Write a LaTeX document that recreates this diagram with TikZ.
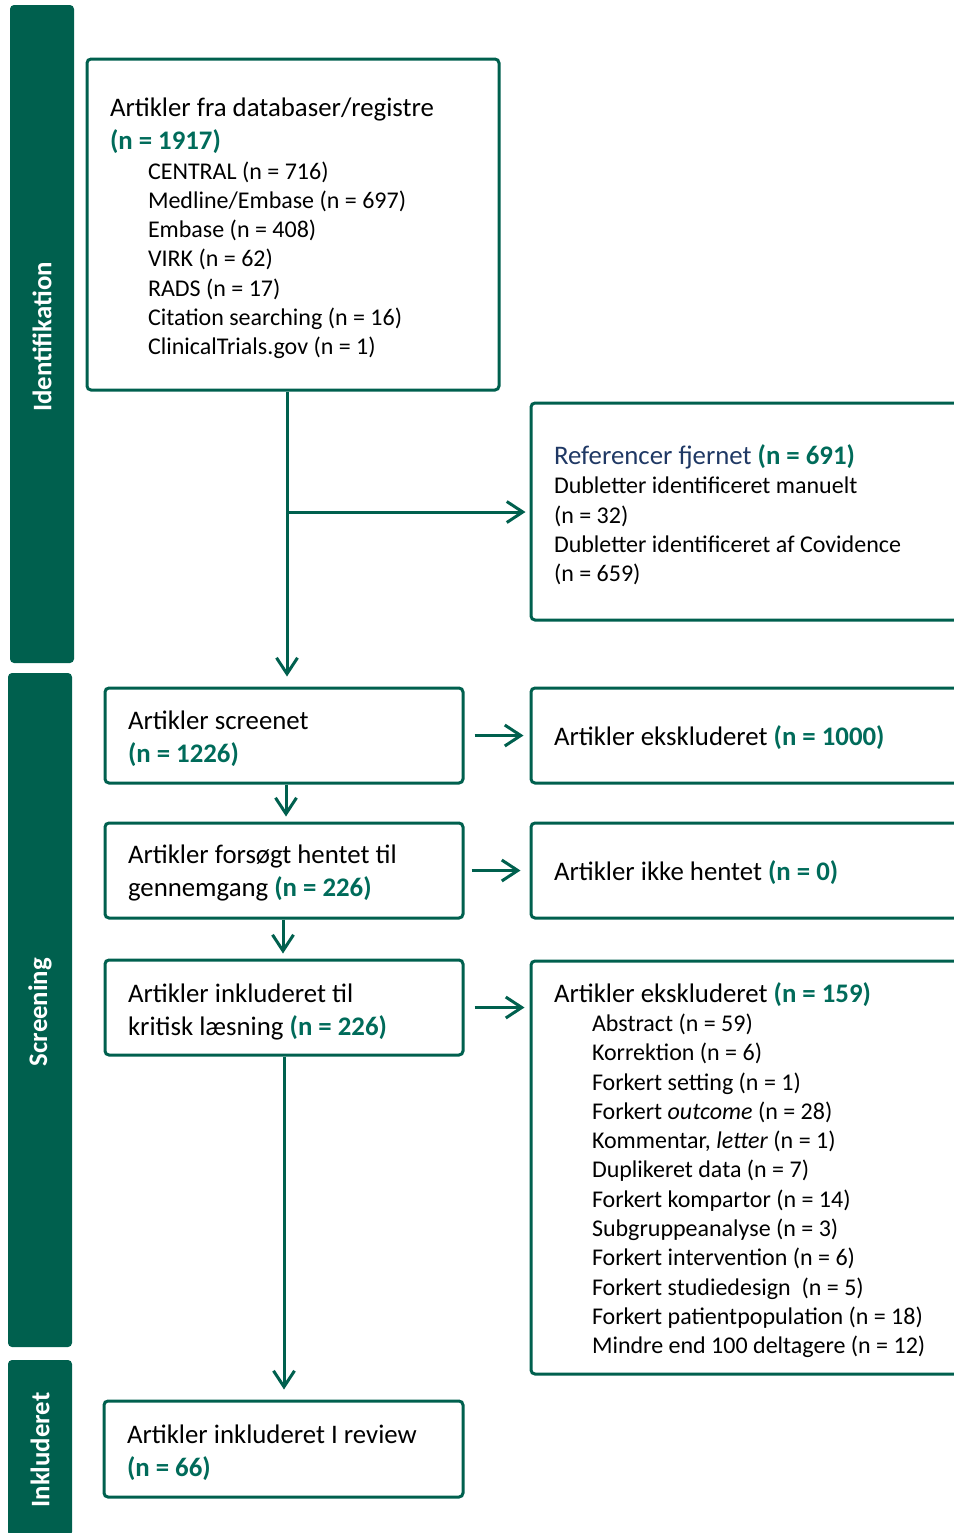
\documentclass[tikz,border=0pt]{standalone}
\usepackage{fontspec}
\setmainfont{Carlito}
\usetikzlibrary{arrows.meta}
\definecolor{dg}{HTML}{00604E}
\definecolor{ng}{HTML}{006B5A}
\definecolor{nv}{HTML}{1F3864}
\newcommand{\nb}[1]{\textbf{\color{ng}#1}}
\newcommand{\ind}{\hspace*{19pt}}
\newcommand{\bigf}{\fontsize{13.4}{16.5}\selectfont}
\newcommand{\smlf}{\fontsize{12}{14.65}\selectfont}
\newcommand{\bx}[3]{\parbox{#1}{\raggedright\bigf\vspace*{#2}#3}}
\tikzset{
 box/.style={draw=dg, line width=1.5pt, rounded corners=2pt, inner xsep=11.5pt, inner ysep=0pt, font=\bigf},
 bar/.style={fill=dg, rounded corners=2pt, text=white, font=\fontsize{13.4}{16}\selectfont\bfseries, rotate=90, minimum height=32pt, inner sep=0pt},
 arr/.style={draw=dg, line width=1.5pt, -{Straight Barb[length=8pt,width=10.5pt]}},
}
\begin{document}
\begin{tikzpicture}[x=0.5pt,y=-0.5pt]
\useasboundingbox (0,0) rectangle (954,1533);
% side bars
\node[bar, minimum width=329pt] (bid) at (42,334) {Identifikation\hspace*{3pt}};
\node[bar, minimum width=337pt] (bsc) at (40,1010) {Screening\hspace*{2pt}};
\node[bar, minimum width=88pt] (bin) at (40,1448) {Inkluderet\hspace*{2pt}};
% boxes
\node[box, minimum height=165.5pt] (db) at (293,224.5) {\bx{183pt}{4pt}{%
{\bigf Artikler fra databaser/registre\\ \nb{(n = 1917)}\par}%
{\smlf\ind CENTRAL (n = 716)\\ \ind Medline/Embase (n = 697)\\ \ind Embase (n = 408)\\ \ind VIRK (n = 62)\\ \ind RADS (n = 17)\\ \ind Citation searching (n = 16)\\ \ind ClinicalTrials.gov (n = 1)\par}}};
\node[box, minimum height=108.5pt] (ref) at (751,511.5) {\bx{197pt}{3.5pt}{%
{\bigf\textcolor{nv}{Referencer fjernet} \nb{(n = 691)}\par}%
{\smlf Dubletter identificeret manuelt\\ (n = 32)\\ Dubletter identificeret af Covidence\\ (n = 659)\par}}};
\node[box, minimum height=47.5pt] (scr) at (284,735.5) {\bx{156pt}{3.5pt}{Artikler screenet\\ \nb{(n = 1226)}}};
\node[box, minimum height=47.5pt] (exa) at (751,735.5) {\bx{197pt}{2pt}{Artikler ekskluderet \nb{(n = 1000)}}};
\node[box, minimum height=47.5pt] (hent) at (284,870.5) {\bx{156pt}{2pt}{Artikler forsøgt hentet til\\ gennemgang \nb{(n = 226)}}};
\node[box, minimum height=47.5pt] (exb) at (751,870.5) {\bx{197pt}{2pt}{Artikler ikke hentet \nb{(n = 0)}}};
\node[box, minimum height=47.5pt] (krit) at (284,1007.5) {\bx{156pt}{4pt}{Artikler inkluderet til\\ kritisk læsning \nb{(n = 226)}}};
\node[box, minimum height=206.5pt] (exc) at (751,1167.5) {\bx{197pt}{2.5pt}{%
{\bigf Artikler ekskluderet \nb{(n = 159)}\par}%
{\smlf\ind Abstract (n = 59)\\ \ind Korrektion (n = 6)\\ \ind Forkert setting (n = 1)\\ \ind Forkert \textit{outcome} (n = 28)\\ \ind Kommentar, \textit{letter} (n = 1)\\ \ind Duplikeret data (n = 7)\\ \ind Forkert kompartor (n = 14)\\ \ind Subgruppeanalyse (n = 3)\\ \ind Forkert intervention (n = 6)\\ \ind Forkert studiedesign\ \ (n = 5)\\ \ind Forkert patientpopulation (n = 18)\\ \ind Mindre end 100 deltagere (n = 12)\par}}};
\node[box, minimum height=48pt] (inc) at (283.5,1449) {\bx{156.5pt}{4pt}{Artikler inkluderet I review\\ \nb{(n = 66)}}};
% connectors
\coordinate (a1) at (287,512);
\coordinate (a2) at (286,0);
\coordinate (a3) at (283,0);
\coordinate (a4) at (284,0);
\draw[arr, shorten >=5pt] (db.south -| a1) -- (scr.north -| a1);
\draw[arr, shorten >=2pt] (a1) -- (a1 -| ref.west);
\draw[arr, shorten >=2.5pt] (scr.south -| a2) -- (hent.north -| a2);
\draw[arr, shorten >=2.5pt] (hent.south -| a3) -- (krit.north -| a3);
\draw[arr, shorten >=5pt] (krit.south -| a4) -- (inc.north -| a4);
\draw[arr, shorten <=5pt, shorten >=3pt] (scr.east) -- (exa.west);
\draw[arr, shorten <=3.5pt, shorten >=4.5pt] (hent.east) -- (exb.west);
\draw[arr, shorten <=5pt, shorten >=2.5pt] (krit.east) -- (krit.east -| exc.west);
\end{tikzpicture}
\end{document}
